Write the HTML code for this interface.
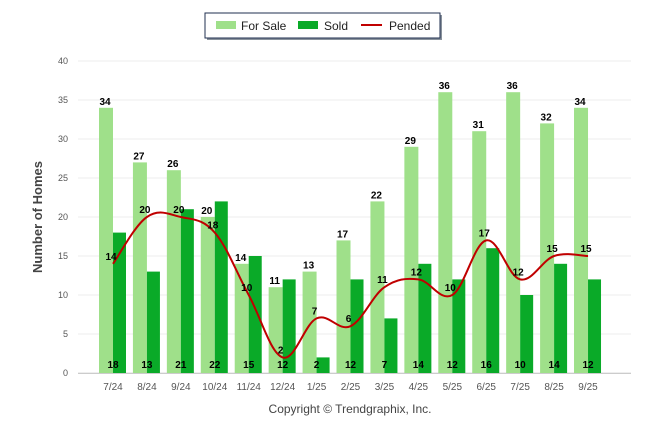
<!DOCTYPE html>
<html><head><meta charset="utf-8"><style>
body{margin:0;background:#fff;font-family:"Liberation Sans",sans-serif}
svg text{font-family:"Liberation Sans",sans-serif}
</style></head><body>
<svg id="c" width="646" height="434">
<g>
<rect x="207" y="15" width="235" height="25" fill="#3a4a5a" opacity="0.6"/>
<rect x="205" y="13" width="235" height="25" fill="#fff" stroke="#1f2f4f" stroke-width="1"/>
<rect x="216" y="21" width="20" height="8" fill="#9fe08a"/>
<text x="241" y="30" font-size="12" fill="#222">For Sale</text>
<rect x="298" y="21" width="20" height="8" fill="#0aaa28"/>
<text x="324" y="30" font-size="12" fill="#222">Sold</text>
<line x1="361" y1="25" x2="382" y2="25" stroke="#c00000" stroke-width="2"/>
<text x="389" y="30" font-size="12" fill="#222">Pended</text>
</g>
<text transform="translate(42,217) rotate(-90)" text-anchor="middle" font-size="13" font-weight="bold" fill="#444">Number of Homes</text>
<text x="350" y="413" text-anchor="middle" font-size="12" fill="#444">Copyright © Trendgraphix, Inc.</text>
<g id="plot"></g>
</svg>
<script>
const categories=["7/24","8/24","9/24","10/24","11/24","12/24","1/25","2/25","3/25","4/25","5/25","6/25","7/25","8/25","9/25"];
const forSale=[34,27,26,20,14,11,13,17,22,29,36,31,36,32,34];
const sold=[18,13,21,22,15,12,2,12,7,14,12,16,10,14,12];
const pended=[14,20,20,18,10,2,7,6,11,12,10,17,12,15,15];
const yTicks=[0,5,10,15,20,25,30,35,40];
const NS="http://www.w3.org/2000/svg";
const g=document.getElementById('plot');
const y=v=>373-v*(312/40);
const xc=i=>113+i*33.93;
function mk(t,a,txt){const e=document.createElementNS(NS,t);for(const k in a)e.setAttribute(k,a[k]);if(txt!==undefined)e.textContent=txt;g.appendChild(e);return e;}
yTicks.forEach(v=>{
 const l=mk('line',{x1:78,x2:631,y1:y(v),y2:y(v),stroke:v?'#ececec':'#ddd','stroke-width':1});
 
 
 const t=mk('text',{x:68,y:y(v)+3,'text-anchor':'end','font-size':9,fill:'#555'},v);
 
 
});
categories.forEach((c,i)=>{
 const x=xc(i);
 const b1=mk('rect',{x:x-14,y:y(forSale[i]),width:14,height:373-y(forSale[i]),fill:'#9fe08a'});
 
 
 const b2=mk('rect',{x:x,y:y(sold[i]),width:13,height:373-y(sold[i]),fill:'#0aaa28'});
 
 
 const t1=mk('text',{x:x-8,y:y(forSale[i])-3,'text-anchor':'middle','font-size':10,'font-weight':'bold',fill:'#000'},forSale[i]);
 
 
 const t2=mk('text',{x:x,y:368,'text-anchor':'middle','font-size':10,'font-weight':'bold',fill:'#000'},sold[i]);
 
 
 const xl=mk('text',{x:x,y:390,'text-anchor':'middle','font-size':10,fill:'#555'},c);
 
 
});
const ax=mk('line',{x1:78,x2:631,y1:373.5,y2:373.5,stroke:'#ccc'});


// smooth line (Catmull-Rom)
const P=pended.map((v,i)=>[xc(i),y(v)]);
let d='M'+P[0][0]+','+P[0][1];
for(let i=0;i<P.length-1;i++){
 const p0=P[Math.max(0,i-1)],p1=P[i],p2=P[i+1],p3=P[Math.min(P.length-1,i+2)];
 const k=0.18;
 d+=' C'+(p1[0]+(p2[0]-p0[0])*k)+','+(p1[1]+(p2[1]-p0[1])*k)+' '+(p2[0]-(p3[0]-p1[0])*k)+','+(p2[1]-(p3[1]-p1[1])*k)+' '+p2[0]+','+p2[1];
}
const ln=mk('path',{d:d,fill:'none',stroke:'#c00000','stroke-width':2});


pended.forEach((v,i)=>{
 const t=mk('text',{x:xc(i)-2,y:y(v)-4,'text-anchor':'middle','font-size':10,'font-weight':'bold',fill:'#000'},v);
 
 
});
</script>
</body></html>
